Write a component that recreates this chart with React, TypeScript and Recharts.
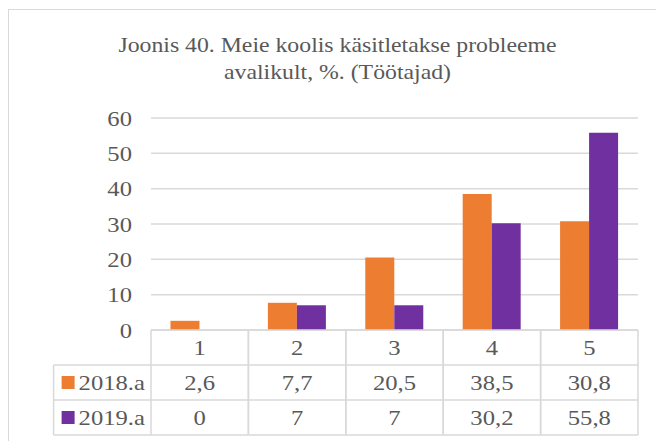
import React from 'react';
import { BarChart, Bar, XAxis, YAxis, CartesianGrid } from 'recharts';

// ---- data ----
const categories = ['1', '2', '3', '4', '5'];
const seriesNames = ['2018.a', '2019.a'];
const values2018 = [2.6, 7.7, 20.5, 38.5, 30.8];
const values2019 = [0, 7, 7, 30.2, 55.8];
const yTicks = [0, 10, 20, 30, 40, 50, 60];
const seriesColors = ['#ED7D31', '#7030A0'];
const titleLines = ['Joonis 40. Meie koolis käsitletakse probleeme', 'avalikult, %. (Töötajad)'];

const data = categories.map((c, i) => ({ cat: c, s2018: values2018[i], s2019: values2019[i] }));
const seriesValues = [values2018, values2019];

// ---- layout ----
const W = 656;
const H = 441;
const PLOT_LEFT = 151;
const PLOT_RIGHT = 638;
const PLOT_TOP = 118;
const PLOT_BOTTOM = 330;
const YAXIS_W = 60;
const BAND = (PLOT_RIGHT - PLOT_LEFT) / categories.length;
const ROW_H = 35;
const TEXT = '#595959';
const LINE = '#D9D9D9';
const FONT = "'Liberation Serif'";
const FS = 22;
const SX = 1.12;
const TITLE_SX = 1.08;

const fmt = (v: number) => String(v).replace('.', ',');

const SText = ({ x, y, anchor, children }: any) => (
  <text
    transform={`translate(${x},${y}) scale(${SX},1)`}
    x={0}
    y={0}
    textAnchor={anchor}
    dominantBaseline="central"
    fill={TEXT}
    style={{ fontFamily: FONT, fontSize: FS }}
  >
    {children}
  </text>
);

const YTick = (props: any) => {
  const { x, y, payload } = props;
  return <SText x={x} y={y} anchor="end">{payload.value}</SText>;
};

const TableTick = (props: any) => {
  const { x, y, payload, index } = props;
  const left = x - BAND / 2;
  const right = x + BAND / 2;
  const y0 = y;
  const lw = 1.5;
  const els: React.ReactNode[] = [];
  els.push(<line key="t" x1={left} x2={right} y1={y0} y2={y0} stroke={LINE} strokeWidth={lw} />);
  for (let r = 1; r <= 3; r++) {
    els.push(
      <line key={'h' + r} x1={left} x2={right} y1={y0 + r * ROW_H} y2={y0 + r * ROW_H} stroke={LINE} strokeWidth={lw} />
    );
  }
  els.push(<line key="vl" x1={left} x2={left} y1={y0} y2={y0 + 3 * ROW_H} stroke={LINE} strokeWidth={lw} />);
  els.push(<line key="vr" x1={right} x2={right} y1={y0} y2={y0 + 3 * ROW_H} stroke={LINE} strokeWidth={lw} />);
  els.push(
    <SText key="c" x={x} y={y0 + ROW_H / 2} anchor="middle">
      {payload.value}
    </SText>
  );
  seriesValues.forEach((vals, s) => {
    els.push(
      <SText key={'v' + s} x={x} y={y0 + ROW_H * (s + 1) + ROW_H / 2} anchor="middle">
        {fmt(vals[index])}
      </SText>
    );
  });
  if (index === 0) {
    const lx = left - BAND;
    for (let r = 1; r <= 3; r++) {
      els.push(
        <line key={'lh' + r} x1={lx} x2={left} y1={y0 + r * ROW_H} y2={y0 + r * ROW_H} stroke={LINE} strokeWidth={lw} />
      );
    }
    els.push(<line key="lv" x1={lx} x2={lx} y1={y0 + ROW_H} y2={y0 + 3 * ROW_H} stroke={LINE} strokeWidth={lw} />);
    seriesNames.forEach((name, s) => {
      const cy = y0 + ROW_H * (s + 1) + ROW_H / 2;
      els.push(<rect key={'sq' + s} x={lx + 8} y={cy - 6.5} width={13} height={13} fill={seriesColors[s]} />);
      els.push(
        <SText key={'n' + s} x={lx + 25} y={cy} anchor="start">
          {name}
        </SText>
      );
    });
  }
  return <g>{els}</g>;
};

export default function App() {
  return (
    <div style={{ position: 'absolute', left: 0, top: 0, width: W, height: H, overflow: 'hidden', background: '#fff' }}>
      <div
        style={{
          position: 'absolute',
          left: 8,
          top: 9,
          width: 720,
          height: 520,
          border: `1.5px solid ${LINE}`,
          boxSizing: 'border-box',
        }}
      />
      <div
        style={{
          position: 'absolute',
          left: 9,
          width: 657,
          top: 31,
          textAlign: 'center',
          fontFamily: FONT,
          fontSize: FS,
          lineHeight: '27px',
          color: TEXT,
          transform: `scaleX(${TITLE_SX})`,
          transformOrigin: '328.5px 0',
          whiteSpace: 'nowrap',
        }}
      >
        {titleLines.map((t) => (
          <div key={t}>{t}</div>
        ))}
      </div>
      <div style={{ position: 'absolute', left: 0, top: 0 }}>
        <BarChart
          width={W}
          height={H}
          data={data}
          margin={{ top: PLOT_TOP, right: W - PLOT_RIGHT, bottom: 0, left: PLOT_LEFT - YAXIS_W }}
          barCategoryGap="20%"
          barGap={0}
        >
          <CartesianGrid vertical={false} stroke={LINE} strokeWidth={1.5} />
          <XAxis
            dataKey="cat"
            height={H - PLOT_BOTTOM}
            axisLine={false}
            tickLine={false}
            tickSize={0}
            tickMargin={0}
            interval={0}
            tick={<TableTick />}
          />
          <YAxis
            width={YAXIS_W}
            domain={[0, 60]}
            ticks={yTicks}
            interval={0}
            axisLine={false}
            tickLine={false}
            tickSize={0}
            tickMargin={19}
            tick={<YTick />}
          />
          <Bar dataKey="s2018" name={seriesNames[0]} fill={seriesColors[0]} isAnimationActive={false} />
          <Bar dataKey="s2019" name={seriesNames[1]} fill={seriesColors[1]} isAnimationActive={false} />
        </BarChart>
      </div>
    </div>
  );
}
